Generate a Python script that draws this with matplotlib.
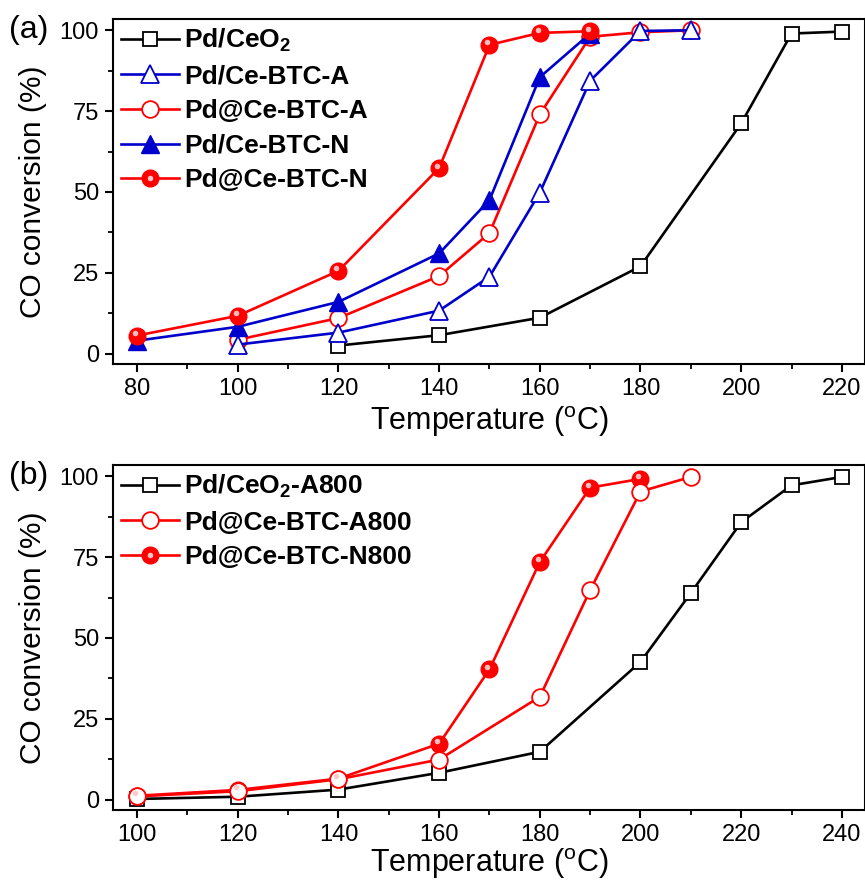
import matplotlib
matplotlib.use("Agg")
import matplotlib.pyplot as plt
from matplotlib.transforms import offset_copy
from matplotlib.legend_handler import HandlerTuple

# ---- data ----
t_ceo2 = [120, 140, 160, 180, 200, 210, 220]
y_ceo2 = [2.5, 5.7, 11.1, 27.0, 71.2, 99.0, 99.6]
t_bta = [100, 120, 140, 150, 160, 170, 180, 190]
y_bta = [2.8, 6.5, 13.3, 23.8, 49.8, 84.4, 99.8, 100.0]
t_atbta = [100, 120, 140, 150, 160, 170, 180, 190]
y_atbta = [4.3, 11.0, 24.0, 37.3, 74.0, 98.0, 99.4, 100.0]
t_btn = [80, 100, 120, 140, 150, 160, 170]
y_btn = [4.0, 8.3, 16.0, 31.0, 47.5, 85.5, 99.0]
t_atbtn = [80, 100, 120, 140, 150, 160, 170]
y_atbtn = [5.6, 11.7, 25.6, 57.4, 95.5, 99.2, 99.7]

t_ceo2_800 = [100, 120, 140, 160, 180, 200, 210, 220, 230, 240]
y_ceo2_800 = [0.2, 0.9, 3.1, 8.3, 14.8, 42.6, 63.9, 85.8, 97.2, 99.8]
t_a800 = [100, 120, 140, 160, 180, 190, 200, 210]
y_a800 = [1.0, 2.6, 6.3, 12.4, 31.8, 64.8, 95.3, 99.8]
t_n800 = [100, 120, 140, 160, 170, 180, 190, 200]
y_n800 = [1.2, 3.0, 6.5, 17.3, 40.3, 73.5, 96.5, 99.2]

labels_a = [r'Pd/CeO$_\mathbf{2}$', 'Pd/Ce-BTC-A', 'Pd@Ce-BTC-A', 'Pd/Ce-BTC-N', 'Pd@Ce-BTC-N']
labels_b = [r'Pd/CeO$_\mathbf{2}$-A800', 'Pd@Ce-BTC-A800', 'Pd@Ce-BTC-N800']
xticks_a = [80, 100, 120, 140, 160, 180, 200, 220]
xticks_b = [100, 120, 140, 160, 180, 200, 220, 240]
yticks = [0, 25, 50, 75, 100]

BLUE = '#0000CC'
RED = '#FF0000'

plt.rcParams['font.family'] = ['Liberation Sans', 'DejaVu Sans']
plt.rcParams['mathtext.fontset'] = 'custom'
plt.rcParams['mathtext.rm'] = 'Liberation Sans'
plt.rcParams['mathtext.bf'] = 'Liberation Sans:bold'
plt.rcParams['mathtext.it'] = 'Liberation Sans:italic'

fig = plt.figure(figsize=(8.65, 8.83), dpi=100)
ax1 = fig.add_axes([0.1306, 0.5878, 0.8694, 0.3907])
ax2 = fig.add_axes([0.1306, 0.0827, 0.8694, 0.3907])

LW = 1.9
MS = 12


def gloss(ax, x, y):
    tr = offset_copy(ax.transData, fig=fig, x=-2.0, y=2.5, units='dots')
    ax.plot(x, y, ls='none', marker='o', ms=4.0, mfc='#FFC8C8', mec='none',
            alpha=0.95, transform=tr, zorder=6)


def style(ax, xticks, xlim, xpad):
    ax.set_xlim(*xlim)
    ax.set_ylim(-3.2, 103.5)
    ax.set_xticks(xticks)
    ax.set_xticks([v + 10 for v in xticks[:-1]], minor=True)
    ax.set_yticks(yticks)
    ax.set_yticks([12.5, 37.5, 62.5, 87.5], minor=True)
    for s in ax.spines.values():
        s.set_linewidth(1.5)
    ax.tick_params(which='major', direction='out', length=6, width=1.5,
                   labelsize=17, top=False, right=False, pad=4)
    ax.tick_params(which='minor', direction='out', length=3.5, width=1.3,
                   top=False, right=False)
    ax.set_xlabel(r'Temperature ($^\mathrm{o}$C)', fontsize=22, labelpad=xpad)
    ax.set_ylabel('CO conversion (%)', fontsize=21.5, labelpad=9)


LEG = dict(loc='upper left', frameon=False, prop={'weight': 'bold', 'size': 19},
           handlelength=2.2, handletextpad=0.2, labelspacing=0.4,
           borderaxespad=0.15, borderpad=0.15,
           handler_map={tuple: HandlerTuple(ndivide=1)})

# ---- panel (a) ----
h1, = ax1.plot(t_ceo2, y_ceo2, '-s', color='black', lw=LW, ms=MS - 1.5,
               mfc='white', mec='black', mew=1.3, zorder=3)
h2, = ax1.plot(t_bta, y_bta, '-^', color=BLUE, lw=LW, ms=MS + 1,
               mfc='white', mec=BLUE, mew=1.3, zorder=4)
h3, = ax1.plot(t_atbta, y_atbta, '-o', color=RED, lw=LW, ms=MS,
               mfc='white', mec=RED, mew=1.3, zorder=3)
h4, = ax1.plot(t_btn, y_btn, '-^', color=BLUE, lw=LW, ms=MS + 1,
               mfc=BLUE, mec=BLUE, zorder=5)
h5, = ax1.plot(t_atbtn, y_atbtn, '-o', color=RED, lw=LW, ms=MS,
               mfc=RED, mec=RED, zorder=5)
gloss(ax1, t_atbtn, y_atbtn)
style(ax1, xticks_a, (75.2, 224.6), 3)
hl5, = ax1.plot([], [], ls='none', marker='o', ms=4.0, mfc='#FFC8C8', mec='none')
ax1.legend([h1, h2, h3, h4, (h5, hl5)], labels_a, **LEG)
ax1.text(-0.138, 100, '(a)', transform=ax1.get_yaxis_transform(), fontsize=23,
         ha='left', va='center')

# ---- panel (b) ----
g1, = ax2.plot(t_ceo2_800, y_ceo2_800, '-s', color='black', lw=LW, ms=MS - 1.5,
               mfc='white', mec='black', mew=1.3, zorder=3)
g2, = ax2.plot(t_a800, y_a800, '-o', color=RED, lw=LW, ms=MS,
               mfc='white', mec=RED, mew=1.3, zorder=4)
g3, = ax2.plot(t_n800, y_n800, '-o', color=RED, lw=LW, ms=MS,
               mfc=RED, mec=RED, zorder=3)
gloss(ax2, t_n800, y_n800)
style(ax2, xticks_b, (95.2, 244.6), 0.5)
gl3, = ax2.plot([], [], ls='none', marker='o', ms=4.0, mfc='#FFC8C8', mec='none')
ax2.legend([g1, g2, (g3, gl3)], labels_b, **LEG)
ax2.text(-0.138, 100, '(b)', transform=ax2.get_yaxis_transform(), fontsize=23,
         ha='left', va='center')

fig.savefig('out.png', dpi=100)
